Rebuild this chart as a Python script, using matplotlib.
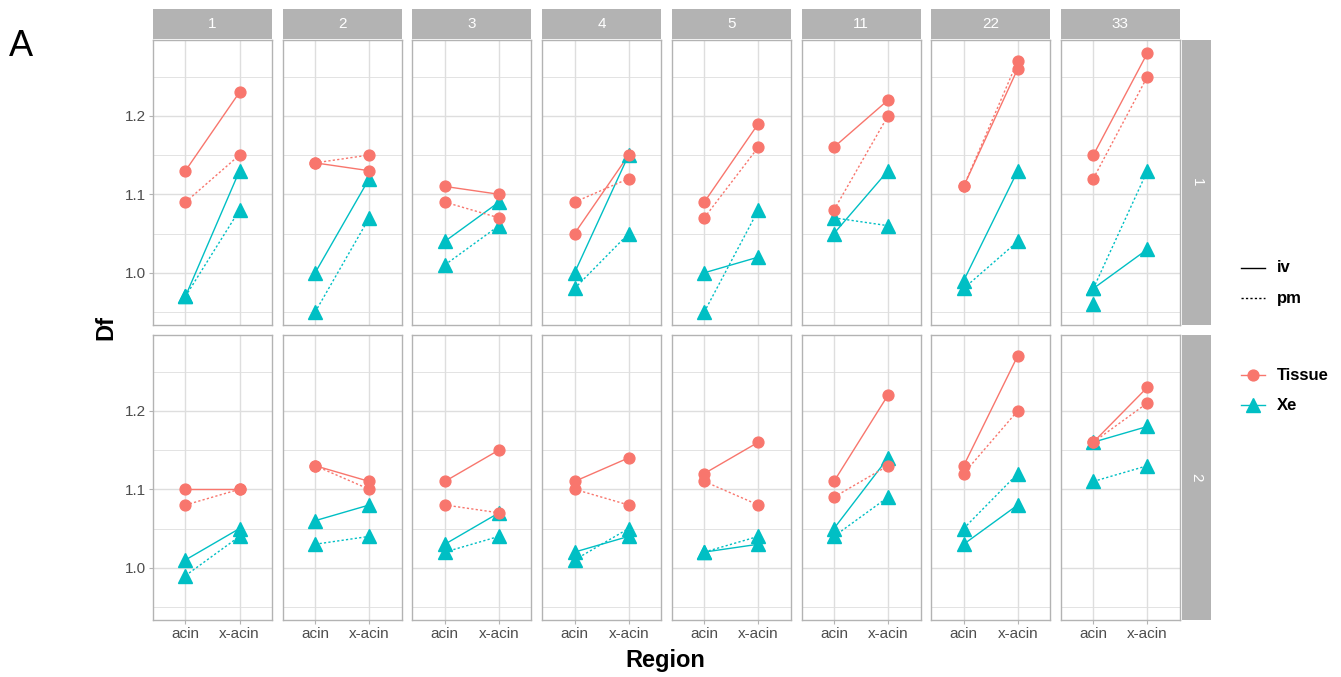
import numpy as np
import matplotlib
matplotlib.use('Agg')
import matplotlib.pyplot as plt
from matplotlib.lines import Line2D

plt.rcParams['font.family'] = ['Liberation Sans', 'DejaVu Sans']

# ── Datos: Df por grupo (columnas) y fila (1, 2) ────────────────────────────
groups  = ['1', '2', '3', '4', '5', '11', '22', '33']
rows    = ['1', '2']
regions = ['acin', 'x-acin']

# fila 1  -> pares (acin, x-acin)
tissue_iv_r1 = [(1.13, 1.23), (1.14, 1.13), (1.11, 1.10), (1.05, 1.15),
                (1.09, 1.19), (1.16, 1.22), (1.11, 1.26), (1.15, 1.28)]
tissue_pm_r1 = [(1.09, 1.15), (1.14, 1.15), (1.09, 1.07), (1.09, 1.12),
                (1.07, 1.16), (1.08, 1.20), (1.11, 1.27), (1.12, 1.25)]
xe_iv_r1     = [(0.97, 1.13), (1.00, 1.12), (1.04, 1.09), (1.00, 1.15),
                (1.00, 1.02), (1.05, 1.13), (0.99, 1.13), (0.98, 1.03)]
xe_pm_r1     = [(0.97, 1.08), (0.95, 1.07), (1.01, 1.06), (0.98, 1.05),
                (0.95, 1.08), (1.07, 1.06), (0.98, 1.04), (0.98, 1.13)]
# punto Xe suelto (sin pareja) en acin
xe_single_r1 = [None, None, None, None, None, None, None, 0.96]

# fila 2
tissue_iv_r2 = [(1.10, 1.10), (1.13, 1.11), (1.11, 1.15), (1.11, 1.14),
                (1.12, 1.16), (1.11, 1.22), (1.13, 1.27), (1.16, 1.23)]
tissue_pm_r2 = [(1.08, 1.10), (1.13, 1.10), (1.08, 1.07), (1.10, 1.08),
                (1.11, 1.08), (1.09, 1.13), (1.12, 1.20), (1.16, 1.21)]
xe_iv_r2     = [(1.01, 1.05), (1.06, 1.08), (1.03, 1.07), (1.02, 1.04),
                (1.02, 1.03), (1.05, 1.14), (1.03, 1.08), (1.16, 1.18)]
xe_pm_r2     = [(0.99, 1.04), (1.03, 1.04), (1.02, 1.04), (1.01, 1.05),
                (1.02, 1.04), (1.04, 1.09), (1.05, 1.12), (1.11, 1.13)]
xe_single_r2 = [None] * 8

y_major = [1.0, 1.1, 1.2]
y_minor = [0.95, 1.05, 1.15, 1.25]

# ── Estilo ──────────────────────────────────────────────────────────────────
C_TISSUE = '#F8766D'
C_XE     = '#00BFC4'
C_BORDER = '#B3B3B3'
C_GRID   = '#DEDEDE'
C_TEXT   = '#4D4D4D'
LS = {'iv': '-', 'pm': (0, (1.6, 1.6))}
MK = {'Tissue': dict(marker='o', ms=7.8), 'Xe': dict(marker='^', ms=9.5)}

W, H = 1341, 677
fig = plt.figure(figsize=(W / 100, H / 100), dpi=100)


def box(left, top, w, h):
    return [left / W, 1 - (top + h) / H, w / W, h / H]


PANEL_L0, PANEL_STEP, PANEL_W = 153, 129.7, 119
ROW_TOPS, PANEL_H = [40, 335], 285

all_vals = np.array(tissue_iv_r1 + tissue_pm_r1 + xe_iv_r1 + xe_pm_r1 +
                    tissue_iv_r2 + tissue_pm_r2 + xe_iv_r2 + xe_pm_r2).ravel()
lo, hi = min(all_vals.min(), 0.96), all_vals.max()
pad = 0.05 * (hi - lo)

data = [
    dict(Tissue={'iv': tissue_iv_r1, 'pm': tissue_pm_r1},
         Xe={'iv': xe_iv_r1, 'pm': xe_pm_r1}, single=xe_single_r1),
    dict(Tissue={'iv': tissue_iv_r2, 'pm': tissue_pm_r2},
         Xe={'iv': xe_iv_r2, 'pm': xe_pm_r2}, single=xe_single_r2),
]

xpos = np.arange(1, len(regions) + 1)

for r, top in enumerate(ROW_TOPS):
    for c, g in enumerate(groups):
        left = PANEL_L0 + c * PANEL_STEP
        ax = fig.add_axes(box(left, top, PANEL_W, PANEL_H))
        ax.set_xlim(0.4, 2.6)
        ax.set_ylim(lo - pad, hi + pad)
        ax.set_xticks(xpos)
        ax.set_xticklabels(regions)
        ax.set_yticks(y_major)
        ax.set_yticklabels([f'{v:.1f}' for v in y_major])
        ax.set_yticks(y_minor, minor=True)
        ax.grid(which='major', color=C_GRID, lw=1.0)
        ax.grid(which='minor', axis='y', color=C_GRID, lw=0.6)
        ax.set_axisbelow(True)
        for s in ax.spines.values():
            s.set_color(C_BORDER)
            s.set_linewidth(1.0)
        ax.tick_params(which='minor', length=0)
        ax.tick_params(which='major', color=C_BORDER, length=3, width=0.8,
                       labelcolor=C_TEXT, labelsize=11, pad=2)
        if c > 0:
            ax.tick_params(left=False, labelleft=False)
        if r == 0:
            ax.tick_params(bottom=False, labelbottom=False)

        d = data[r]
        # lineas primero, puntos encima (Xe debajo de Tissue)
        for sp, col in (('Xe', C_XE), ('Tissue', C_TISSUE)):
            for route in ('iv', 'pm'):
                ax.plot(xpos, d[sp][route][c], color=col, lw=1.0,
                        ls=LS[route], zorder=2)
        for sp, col in (('Xe', C_XE), ('Tissue', C_TISSUE)):
            for route in ('iv', 'pm'):
                ax.plot(xpos, d[sp][route][c], ls='none', color=col,
                        mec=col, zorder=3, **MK[sp])
            if sp == 'Xe' and d['single'][c] is not None:
                ax.plot([xpos[0]], [d['single'][c]], ls='none', color=col,
                        mec=col, zorder=3, **MK[sp])

        # tira superior con el grupo
        if r == 0:
            sax = fig.add_axes(box(left, 9, PANEL_W, 30))
            sax.set_facecolor(C_BORDER)
            sax.set_xticks([]); sax.set_yticks([])
            for s in sax.spines.values():
                s.set_visible(False)
            sax.text(0.5, 0.5, g, color='white', fontsize=11,
                     ha='center', va='center', transform=sax.transAxes)

    # tira lateral con la fila
    rax = fig.add_axes(box(1182, top, 29, PANEL_H))
    rax.set_facecolor(C_BORDER)
    rax.set_xticks([]); rax.set_yticks([])
    for s in rax.spines.values():
        s.set_visible(False)
    rax.text(0.5, 0.5, rows[r], color='white', fontsize=11, rotation=-90,
             ha='center', va='center', transform=rax.transAxes)

# ── Títulos ─────────────────────────────────────────────────────────────────
fig.text(665 / W, 1 - 660 / H, 'Region', fontsize=17, fontweight='bold',
         ha='center', va='center')
fig.text(106 / W, 1 - 327 / H, 'Df', fontsize=17, fontweight='bold',
         rotation=90, ha='center', va='center')
fig.text(21 / W, 1 - 47 / H, 'A', fontsize=26, ha='center', va='center')

# ── Leyendas (tipo de línea y especie) ──────────────────────────────────────
lax = fig.add_axes([0, 0, 1, 1], zorder=-1)
lax.set_xlim(0, W); lax.set_ylim(H, 0)
lax.axis('off')
kx0, kx1, tx = 1241, 1265, 1277
for yk, route in ((268, 'iv'), (298, 'pm')):
    lax.add_line(Line2D([kx0, kx1], [yk, yk], color='black', lw=1.0,
                        ls=LS[route]))
    lax.text(tx, yk, route, fontsize=12, fontweight='bold', va='center')
for yk, sp, col in ((375, 'Tissue', C_TISSUE), (405, 'Xe', C_XE)):
    lax.add_line(Line2D([kx0, kx1], [yk, yk], color=col, lw=1.0))
    lax.plot([(kx0 + kx1) / 2], [yk], ls='none', color=col, mec=col,
             **MK[sp])
    lax.text(tx, yk, sp, fontsize=12, fontweight='bold', va='center')

fig.savefig('out.png', dpi=100)
